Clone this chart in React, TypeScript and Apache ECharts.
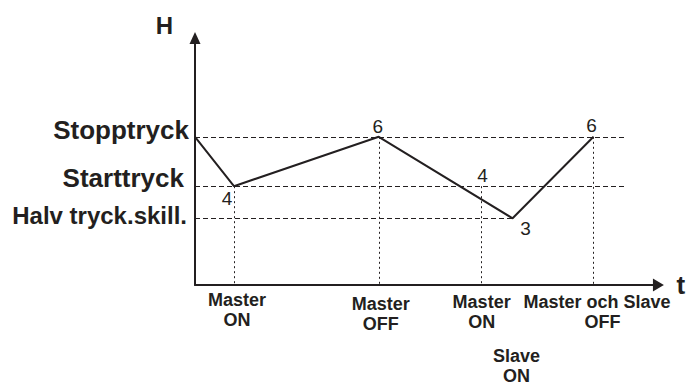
import React, { useEffect, useRef } from 'react';
import * as echarts from 'echarts';

// Pressure levels (H axis)
const levelNames = ['Halv tryck.skill.', 'Starttryck', 'Stopptryck'];
const levelValues = [2.7, 4, 6];
const levelLineEnds = [31.8, 43.2, 43.2];

// Events on the time axis
const eventTimes = [3.9, 18.4, 28.7, 31.8, 39.9];
const eventLabels: [string, string][] = [
  ['Master', 'ON'],
  ['Master', 'OFF'],
  ['Master', 'ON'],
  ['Slave', 'ON'],
  ['Master och Slave', 'OFF'],
];
const eventLevels = [4, 6, 4, 2.7, 6];
const eventDropTo = [0, 0, 0, -2.36, 0];

// Pressure curve
const pathTimes = [0, 3.9, 18.4, 31.8, 39.9];
const pathValues = [6, 4, 6, 2.7, 6];

// Numbers written next to the curve
const noteTimes = [3.9, 18.4, 28.7, 31.8, 39.9];
const noteValues = [4, 6, 4, 2.7, 6];
const noteTexts = ['4', '6', '4', '3', '6'];

const xMax = 46.4;
const yMax = 10;

const INK = '#231f20';
const FONT = '"Liberation Sans", Arial, sans-serif';
const noteOffsets: [number, number][] = [[-7, 12], [-1, -10], [1, -11], [13, 10], [-2, -11]];
const levelRichKeys = ['halv', 'start', 'stopp'];
// label layout tweaks for the time-axis labels (style only)
const evTopPad = [2, 6, 4, 58, 4];
const evLeftPad1 = [6, 4, 0, 8, 7];
const evLeftPad2 = [6, 4, 0, 8, 18];

export default function App() {
  const ref = useRef<HTMLDivElement>(null);
  useEffect(() => {
    if (!ref.current) return;
    const chart = echarts.init(ref.current, undefined, { renderer: 'svg' });

    const evRich: any = {};
    eventTimes.forEach((_, i) => {
      evRich[`e${i}a`] = {
        fontSize: 18, fontWeight: 'bold', color: INK, fontFamily: FONT, align: 'center',
        padding: [evTopPad[i], 0, 0, evLeftPad1[i]],
      };
      evRich[`e${i}b`] = {
        fontSize: 18, fontWeight: 'bold', color: INK, fontFamily: FONT, align: 'center',
        lineHeight: 22, padding: [0, 0, 0, evLeftPad2[i]],
      };
    });

    const option: any = {
      animation: false,
      backgroundColor: '#ffffff',
      textStyle: { fontFamily: FONT, color: INK },
      grid: { left: 195, right: 29, top: 38, bottom: 97, containLabel: false },
      xAxis: {
        type: 'value',
        min: 0,
        max: xMax,
        name: 't',
        nameLocation: 'end',
        nameGap: 14,
        nameTextStyle: { fontSize: 26, fontWeight: 'bold', color: INK, fontFamily: FONT, padding: [4, 0, 0, 0] },
        axisLine: {
          show: true,
          symbol: ['none', 'triangle'],
          symbolSize: [13, 11],
          lineStyle: { color: INK, width: 2 },
        },
        axisTick: { show: false },
        splitLine: { show: false },
        axisLabel: {
          customValues: eventTimes,
          showMinLabel: true,
          showMaxLabel: true,
          hideOverlap: false,
          formatter: (v: number) => {
            const i = eventTimes.findIndex((t) => Math.abs(t - v) < 1e-6);
            if (i < 0) return '';
            return `{e${i}a|${eventLabels[i][0]}}\n{e${i}b|${eventLabels[i][1]}}`;
          },
          fontSize: 18,
          fontWeight: 'bold',
          margin: 4,
          color: INK,
          fontFamily: FONT,
          rich: evRich,
        },
      },
      yAxis: {
        type: 'value',
        min: 0,
        max: yMax,
        name: 'H',
        nameLocation: 'end',
        nameGap: 1,
        nameTextStyle: { fontSize: 24, fontWeight: 'bold', color: INK, fontFamily: FONT, align: 'right', padding: [0, 22, 0, 0] },
        axisLine: {
          show: true,
          symbol: ['none', 'triangle'],
          symbolSize: [11, 12],
          lineStyle: { color: INK, width: 2 },
        },
        axisTick: { show: false },
        splitLine: { show: false },
        axisLabel: {
          customValues: levelValues,
          showMinLabel: true,
          showMaxLabel: true,
          formatter: (v: number) => {
            const i = levelValues.findIndex((t) => Math.abs(t - v) < 1e-6);
            return i >= 0 ? `{${levelRichKeys[i]}|${levelNames[i]}}` : '';
          },
          margin: 6,
          color: INK,
          fontSize: 24,
          fontWeight: 'bold',
          fontFamily: FONT,
          rich: {
            stopp: { fontSize: 26, fontWeight: 'bold', color: INK, fontFamily: FONT, padding: [0, 0, 14, 0] },
            start: { fontSize: 26, fontWeight: 'bold', color: INK, fontFamily: FONT, padding: [0, 5, 16, 0] },
            halv: { fontSize: 24, fontWeight: 'bold', color: INK, fontFamily: FONT, padding: [0, 2, 5, 0] },
          },
        },
      },
      series: [
        {
          type: 'line',
          data: pathTimes.map((t, i) => [t, pathValues[i]]),
          symbol: 'none',
          lineStyle: { color: INK, width: 2 },
          z: 4,
          clip: false,
        },
        {
          type: 'line',
          data: [],
          clip: false,
          markLine: {
            silent: true,
            symbol: ['none', 'none'],
            label: { show: false },
            lineStyle: { color: INK, width: 1, type: [5, 3] },
            emphasis: { disabled: true },
            data: levelValues.map((v, i) => [{ coord: [0, v] }, { coord: [levelLineEnds[i], v] }]),
          },
        },
        {
          type: 'line',
          data: [],
          clip: false,
          markLine: {
            silent: true,
            symbol: ['none', 'none'],
            label: { show: false },
            lineStyle: { color: INK, width: 1, type: [2, 3] },
            emphasis: { disabled: true },
            data: eventTimes.map((t, i) => [{ coord: [t, eventLevels[i]] }, { coord: [t, eventDropTo[i]] }]),
          },
        },
        {
          type: 'scatter',
          symbol: 'circle',
          symbolSize: 1,
          itemStyle: { color: 'rgba(0,0,0,0)' },
          silent: true,
          z: 5,
          data: noteTimes.map((t, i) => ({
            value: [t, noteValues[i]],
            label: { offset: noteOffsets[i] },
          })),
          label: {
            show: true,
            position: 'inside',
            formatter: (p: any) => noteTexts[p.dataIndex],
            fontSize: 19,
            color: INK,
            textBorderWidth: 0,
            opacity: 1,
            fontFamily: FONT,
          },
        },
      ],
    };
    chart.setOption(option);
    return () => chart.dispose();
  }, []);
  return (
    <div
      ref={ref}
      style={{ position: 'fixed', left: 0, top: 0, width: 688, height: 385, background: '#fff' }}
    />
  );
}
